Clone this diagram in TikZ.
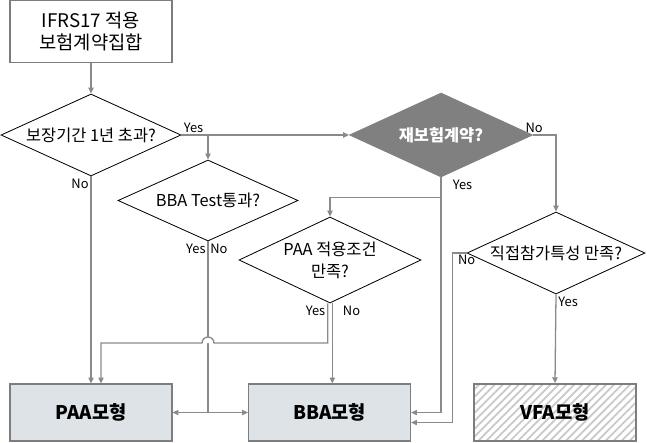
\documentclass[tikz,border=0pt]{standalone}
\usepackage{fontspec}
\setmainfont{Noto Sans CJK KR}
\usetikzlibrary{arrows.meta,positioning,shapes.geometric,patterns.meta}
\definecolor{flowgray}{RGB}{138,138,138}
\definecolor{boxedge}{RGB}{125,125,125}
\definecolor{modelfill}{RGB}{221,227,231}
\definecolor{reinsfill}{RGB}{128,128,128}
\definecolor{hatchgray}{RGB}{200,200,200}

\begin{document}
\begin{tikzpicture}[x=0.03cm, y=-0.03cm,
  startbox/.style={draw=boxedge, line width=1pt, minimum width=4.86cm,
                   minimum height=1.86cm, inner sep=0pt, align=center,
                   font=\fontsize{16}{19}\selectfont},
  decision/.style={diamond, draw=black, line width=0.7pt, inner sep=0pt,
                   minimum width=5.4cm, minimum height=2.46cm},
  dtext/.style={font=\fontsize{14}{19}\selectfont, align=center, inner sep=0pt},
  model/.style={draw=boxedge, line width=1pt, fill=modelfill,
                minimum width=4.86cm, minimum height=1.71cm,
                font=\fontsize{16}{19}\selectfont\bfseries},
  lbl/.style={font=\fontsize{11}{13}\selectfont, inner sep=1.5pt},
  arrow/.style={-{Triangle[length=5pt,width=4.5pt]}, draw=flowgray, line width=1.1pt},
]
\useasboundingbox (0,0) rectangle (647,442);

% ---- start ----
\node[startbox] (start) at (91,31.5) {IFRS17 적용\\보험계약집합};

% ---- decisions ----
\node[decision, label={[dtext]center:보장기간 1년 초과?}] (d1) at (91,135) {};
\node[decision, draw=reinsfill, fill=reinsfill, minimum width=5.49cm, minimum height=2.52cm,
      label={[dtext, text=white, font=\fontsize{14}{19}\selectfont\bfseries]center:재보험계약?}]
     (d2) at (441,135) {};
\node[decision, minimum height=2.43cm, label={[dtext]center:BBA Test통과?}] (d3) at (208,200.5) {};
\node[decision, minimum width=5.46cm, minimum height=2.58cm,
      label={[dtext]center:{PAA 적용조건\\만족?}}] (d4) at (330,260) {};
\node[decision, minimum width=5.34cm, label={[dtext]center:직접참가특성 만족?}] (d5) at (556,253) {};

% ---- models ----
\node[model] (paa) at (91,412.5) {PAA모형};
\node[model] (bba) at (329.5,412.5) {BBA모형};
\node[model, fill=white, pattern={Lines[angle=45,distance=4.8pt,line width=1.5pt]},
      pattern color=hatchgray] (vfa) at (555,412.5) {};
\node[font=\fontsize{16}{19}\selectfont\bfseries] (vfatext) at (vfa) {VFA모형};

% ---- connections ----
\draw[arrow] (start.south) -- (d1.north);
\draw[arrow] (d1.east) node[lbl, above right]{Yes} -- (d2.west);
\draw[arrow] (d1.east -| d3.north) -- (d3.north);
\draw[arrow] (d1.south) node[lbl, below left]{No} -- (paa.north);

% BBA Test
\draw[arrow] (d3.south) node[lbl, below left]{Yes} node[lbl, below right]{No} |- (paa.east);
\draw[arrow] (d3.south) |- (bba.west);

% reinsurance
\draw[arrow] (d2.east) node[lbl, above, xshift=1pt]{No} -| (d5.north);
\draw[arrow] (d2.south) node[lbl, below right, xshift=8pt]{Yes} -- ++(0,20) -| (d4.north);
\draw[arrow] (d2.south) |- (bba.east);

% PAA conditions
\coordinate (d4yes) at ([xshift=-2pt]d4.south);
\coordinate (d4no) at ([xshift=2pt]d4.south);
\coordinate (hop) at (d3.south |- 0,343);
\fill[white] ([xshift=0.18cm]hop) arc[start angle=0, end angle=180, radius=0.18cm] -- cycle;
\draw[arrow] (d4yes) node[lbl, below left]{Yes} |- ([xshift=0.18cm]hop)
  arc[start angle=0, end angle=180, radius=0.18cm] -| ([xshift=0.3cm]paa.north);
\draw[arrow] (d4no) node[lbl, below right, xshift=7pt]{No} -- (d4no |- bba.north);

% direct participation
\draw[arrow] (d5.west) node[lbl, below]{No} -- ++(-14,0) |- ([yshift=-0.3cm]bba.east);
\draw[arrow] (d5.south) node[lbl, below right]{Yes} -- (vfa.north);

\end{tikzpicture}
\end{document}
